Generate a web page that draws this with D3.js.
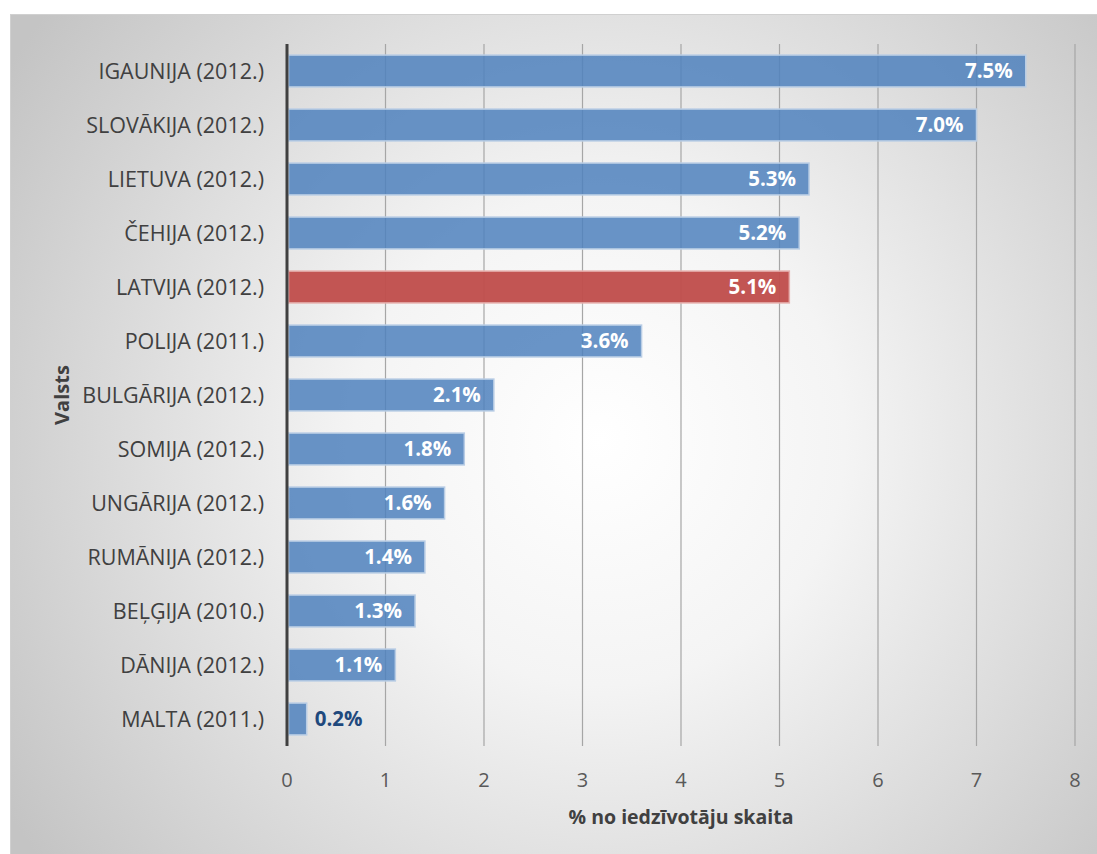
<!DOCTYPE html>
<html>
<head>
<meta charset="utf-8">
<script src="https://cdn.jsdelivr.net/npm/d3@7"></script>
<style>
  html, body { margin: 0; padding: 0; background: #ffffff; }
  svg { display: block; font-family: "Open Sans", "Noto Sans", sans-serif; }
</style>
</head>
<body>
<svg id="chart" width="1097" height="854"></svg>
<script>
// Countries (top to bottom) with reference year
const countries = [
  "IGAUNIJA (2012.)", "SLOVĀKIJA (2012.)", "LIETUVA (2012.)", "ČEHIJA (2012.)",
  "LATVIJA (2012.)", "POLIJA (2011.)", "BULGĀRIJA (2012.)", "SOMIJA (2012.)",
  "UNGĀRIJA (2012.)", "RUMĀNIJA (2012.)", "BEĻĢIJA (2010.)", "DĀNIJA (2012.)",
  "MALTA (2011.)"
];
// Share of population, %
const shares = [7.5, 7.0, 5.3, 5.2, 5.1, 3.6, 2.1, 1.8, 1.6, 1.4, 1.3, 1.1, 0.2];
const highlighted = ["LATVIJA (2012.)"];
const xTicks = [0, 1, 2, 3, 4, 5, 6, 7, 8];
const xTitle = "% no iedzīvotāju skaita";
const yTitle = "Valsts";

const data = countries.map((c, i) => ({ country: c, value: shares[i] }));

const svg = d3.select("#chart");
const W = 1097, H = 854;

// Chart-area background: soft radial gradient
const defs = svg.append("defs");
const grad = defs.append("radialGradient")
  .attr("id", "bg").attr("gradientUnits", "userSpaceOnUse")
  .attr("cx", 600).attr("cy", 440).attr("r", 700);
grad.append("stop").attr("offset", "0%").attr("stop-color", "#ffffff");
grad.append("stop").attr("offset", "35%").attr("stop-color", "#f4f4f4");
grad.append("stop").attr("offset", "100%").attr("stop-color", "#c4c4c4");

svg.append("rect")
  .attr("x", 10.5).attr("y", 14.5).attr("width", W - 10).attr("height", H - 14)
  .attr("fill", "url(#bg)").attr("stroke", "#d0d0d0").attr("stroke-width", 1);

const plot = { left: 287, right: 1075, top: 44, bottom: 746 };

const x = d3.scaleLinear().domain([0, 8]).range([plot.left, plot.right]);
const y = d3.scaleBand().domain(countries).range([plot.top, plot.bottom]).paddingInner(0.41).paddingOuter(0.205);

// Vertical gridlines
svg.append("g").selectAll("line").data(xTicks.filter(t => t > 0)).join("line")
  .attr("x1", d => x(d)).attr("x2", d => x(d))
  .attr("y1", plot.top).attr("y2", plot.bottom)
  .attr("stroke", "#a6a6a6").attr("stroke-width", 1.2);

// Bars
svg.append("g").selectAll("rect").data(data).join("rect")
  .attr("x", x(0) + 1.5)
  .attr("y", d => y(d.country))
  .attr("width", d => x(d.value) - x(0) - 1.5)
  .attr("height", y.bandwidth())
  .attr("fill", d => highlighted.includes(d.country) ? "#c0504d" : "#4f81bd")
  .attr("fill-opacity", d => highlighted.includes(d.country) ? 0.97 : 0.85)
  .attr("stroke", d => highlighted.includes(d.country) ? "#e6b0ae" : "#b9cde5")
  .attr("stroke-width", 1.5);

// Value labels (inside end, or outside if the bar is too short)
svg.append("g").selectAll("text").data(data).join("text")
  .attr("x", d => d.value < 0.5 ? x(d.value) + 8 : x(d.value) - 13)
  .attr("y", d => y(d.country) + y.bandwidth() / 2)
  .attr("dy", "0.36em")
  .attr("text-anchor", d => d.value < 0.5 ? "start" : "end")
  .attr("fill", d => d.value < 0.5 ? "#1f497d" : "#ffffff")
  .attr("font-size", 20.5).attr("font-weight", "bold")
  .text(d => d.value.toFixed(1) + "%");

// Category axis line
svg.append("line")
  .attr("x1", x(0)).attr("x2", x(0))
  .attr("y1", plot.top).attr("y2", plot.bottom)
  .attr("stroke", "#404040").attr("stroke-width", 3);

// Category labels
svg.append("g").selectAll("text").data(countries).join("text")
  .attr("x", 264)
  .attr("y", d => y(d) + y.bandwidth() / 2)
  .attr("dy", "0.36em")
  .attr("text-anchor", "end")
  .attr("fill", "#404040")
  .attr("font-size", 21.5)
  .text(d => d);

// Value axis tick labels
svg.append("g").selectAll("text").data(xTicks).join("text")
  .attr("x", d => x(d))
  .attr("y", 780)
  .attr("dy", "0.36em")
  .attr("text-anchor", "middle")
  .attr("fill", "#595959")
  .attr("font-size", 20)
  .text(d => d);

// Axis titles
svg.append("text")
  .attr("x", 681).attr("y", 817).attr("dy", "0.36em")
  .attr("text-anchor", "middle").attr("fill", "#404040")
  .attr("font-size", 19.5).attr("font-weight", "bold")
  .text(xTitle);

svg.append("text")
  .attr("transform", "translate(62,395) rotate(-90)")
  .attr("dy", "0.36em")
  .attr("text-anchor", "middle").attr("fill", "#404040")
  .attr("font-size", 20).attr("font-weight", "bold")
  .text(yTitle);
</script>
</body>
</html>
